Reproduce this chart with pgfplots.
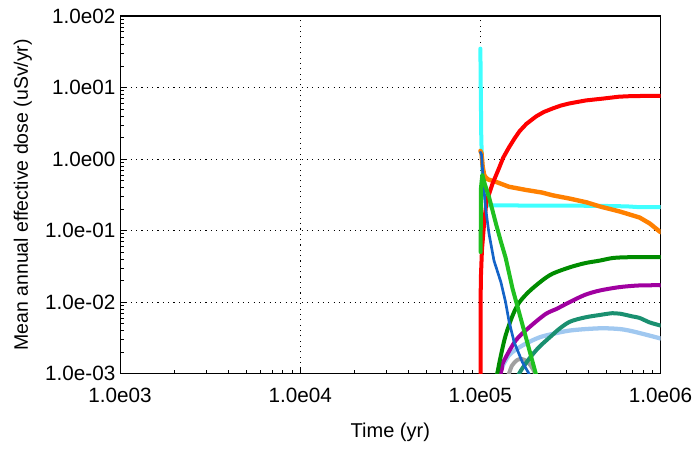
\documentclass[border=0pt]{standalone}
\usepackage{fontspec}
\setmainfont{Liberation Sans}
\usepackage{pgfplots}
\pgfplotsset{compat=1.18}
\usetikzlibrary{calc}
\definecolor{cRed}{HTML}{FF0000}
\definecolor{cOrange}{HTML}{FF8000}
\definecolor{cCyan}{HTML}{40FFFF}
\definecolor{cBlue}{HTML}{1464C8}
\definecolor{cGreen}{HTML}{20C020}
\definecolor{cDGreen}{HTML}{008C00}
\definecolor{cPurple}{HTML}{A000A0}
\definecolor{cTeal}{HTML}{1A9070}
\definecolor{cLBlue}{HTML}{A0C8F0}
\definecolor{cGray}{HTML}{A0A0A0}
\begin{document}
\begin{tikzpicture}
\begin{axis}[name=ax,
  scale only axis, width=405pt, height=268pt,
  xmode=log, ymode=log,
  xmin=1e3, xmax=1e6, ymin=1e-3, ymax=1e2,
  xtick={1e3,1e4,1e5,1e6},
  xticklabels={1.0e03,1.0e04,1.0e05,1.0e06},
  ytick={1e-3,1e-2,1e-1,1e0,1e1,1e2},
  yticklabels={1.0e-03,1.0e-02,1.0e-01,1.0e00,1.0e01,1.0e02},
  minor xtick={2e3,3e3,4e3,5e3,6e3,7e3,8e3,9e3,2e4,3e4,4e4,5e4,6e4,7e4,8e4,9e4,2e5,3e5,4e5,5e5,6e5,7e5,8e5,9e5},
  minor ytick={2e-3,3e-3,4e-3,5e-3,6e-3,7e-3,8e-3,9e-3,2e-2,3e-2,4e-2,5e-2,6e-2,7e-2,8e-2,9e-2,2e-1,3e-1,4e-1,5e-1,6e-1,7e-1,8e-1,9e-1,2,3,4,5,6,7,8,9,20,30,40,50,60,70,80,90},
  xtick pos=bottom, ytick pos=left,
  tick align=inside,
  major tick length=5pt, minor tick length=3pt,
  tick style={black, line width=0.6pt},
  axis line style={black, line width=0.8pt},
  grid=major,
  major grid style={black, line width=0.7pt, dash pattern=on 0.8pt off 3.2pt},
  minor grid style={draw=none},
  ticklabel style={font=\fontsize{15.5}{17}\selectfont},
  xticklabel style={yshift=-7pt},
  xlabel={Time (yr)},
  ylabel={Mean annual effective dose (uSv/yr)},
  xlabel style={font=\fontsize{15}{17}\selectfont, at={(axis description cs:0.5,-0.165)}, anchor=center},
  ylabel style={font=\fontsize{14.6}{16}\selectfont, at={(axis description cs:-0.18,0.5)}, anchor=center},
  every axis plot/.append style={line join=round, line cap=round},
]
% cyan
\addplot[cCyan, line width=3pt] coordinates {
(1.0e5,35) (1.004e5,12) (1.012e5,1.8) (1.03e5,0.6) (1.06e5,0.3) (1.1e5,0.225)
(4.5e5,0.222) (6.5e5,0.218) (7.5e5,0.213) (1e6,0.213)};
% orange
\addplot[cOrange, line width=3.3pt] coordinates {
(1.0e5,1.3) (1.015e5,1.2) (1.03e5,0.78) (1.05e5,0.6) (1.067e5,0.56) (1.1e5,0.52)
(1.22e5,0.48) (1.44e5,0.41) (1.79e5,0.37) (2.2e5,0.34) (2.52e5,0.311) (3.13e5,0.28)
(3.89e5,0.248) (4.59e5,0.218) (5.93e5,0.185) (7.0e5,0.163) (7.66e5,0.152) (8.7e5,0.126) (1e6,0.095)};
% red
\addplot[cRed, line width=3pt] coordinates {
(1.0e5,1e-4) (1.005e5,0.02) (1.02e5,0.053) (1.05e5,0.13) (1.08e5,0.25) (1.167e5,0.45)
(1.27e5,0.75) (1.34e5,1.05) (1.44e5,1.45) (1.55e5,1.95) (1.65e5,2.45) (1.8e5,3.1)
(2.04e5,3.95) (2.25e5,4.55) (2.52e5,5.1) (2.8e5,5.6) (3.13e5,6.0) (3.85e5,6.6)
(4.78e5,7.0) (5.9e5,7.45) (7e5,7.6) (1e6,7.65)};
% light blue
\addplot[cLBlue, line width=3.2pt, smooth, tension=0.5] coordinates {
(1.25e5,0.0008) (1.27e5,0.001) (1.44e5,0.0018) (1.71e5,0.00247) (2.03e5,0.00306)
(2.3e5,0.0034) (3.13e5,0.0040) (4.59e5,0.0043) (5.93e5,0.0042) (7.0e5,0.0039)
(8.7e5,0.0034) (1e6,0.0031)};
% gray
\addplot[cGray, line width=3pt, smooth, tension=0.5] coordinates {
(1.38e5,0.0008) (1.44e5,0.001) (1.5e5,0.0013) (1.6e5,0.00155) (1.7e5,0.0016)
(1.8e5,0.0015) (1.9e5,0.0013) (1.98e5,0.0011) (2.05e5,0.0009)};
% teal
\addplot[cTeal, line width=3pt, smooth, tension=0.5] coordinates {
(1.6e5,0.0008) (1.64e5,0.001) (1.86e5,0.0016) (2.1e5,0.0023) (2.3e5,0.00285)
(2.52e5,0.0035) (2.7e5,0.0041) (3.13e5,0.0053) (3.8e5,0.0061) (4.59e5,0.0066)
(5.4e5,0.0070) (5.93e5,0.0069) (7.0e5,0.0063) (7.66e5,0.006) (8.7e5,0.0052) (1e6,0.0047)};
% purple
\addplot[cPurple, line width=3pt, smooth, tension=0.5] coordinates {
(1.28e5,0.0009) (1.32e5,0.0012) (1.34e5,0.00145) (1.57e5,0.0029) (1.86e5,0.0044)
(2.3e5,0.0068) (2.64e5,0.0080) (3.13e5,0.0100) (3.8e5,0.0126) (4.59e5,0.0145) (5.93e5,0.0162)
(7.66e5,0.0171) (1e6,0.0172)};
% dark green
\addplot[cDGreen, line width=3pt, smooth, tension=0.5] coordinates {
(1.2e5,0.0007) (1.24e5,0.001) (1.30e5,0.0018) (1.38e5,0.0034) (1.51e5,0.0065)
(1.64e5,0.0098) (1.86e5,0.0140) (2.2e5,0.0200) (2.52e5,0.0250) (3.13e5,0.0306)
(3.8e5,0.0350) (4.59e5,0.038) (5.5e5,0.0415) (7e5,0.0425) (1e6,0.0426)};
% blue
\addplot[cBlue, line width=2pt] coordinates {
(1.0e5,1.25) (1.015e5,1.15) (1.035e5,0.55) (1.067e5,0.213) (1.117e5,0.09) (1.19e5,0.038)
(1.30e5,0.019) (1.38e5,0.01) (1.44e5,0.0055) (1.54e5,0.00275) (1.71e5,0.00145)
(1.86e5,0.001) (1.9e5,0.0009)};
% bright green
\addplot[cGreen, line width=3pt] coordinates {
(1.003e5,0.05) (1.008e5,0.4) (1.025e5,0.6) (1.06e5,0.44) (1.117e5,0.294) (1.22e5,0.125)
(1.30e5,0.07) (1.38e5,0.042) (1.51e5,0.0153) (1.64e5,0.0072) (1.82e5,0.00275)
(2.03e5,0.001) (2.1e5,0.0008)};
\end{axis}
\pgfresetboundingbox
\path[use as bounding box] ($(ax.south west)+(-90pt,-56.25pt)$) rectangle ($(ax.north east)+(26.6pt,12pt)$);
\end{tikzpicture}
\end{document}
